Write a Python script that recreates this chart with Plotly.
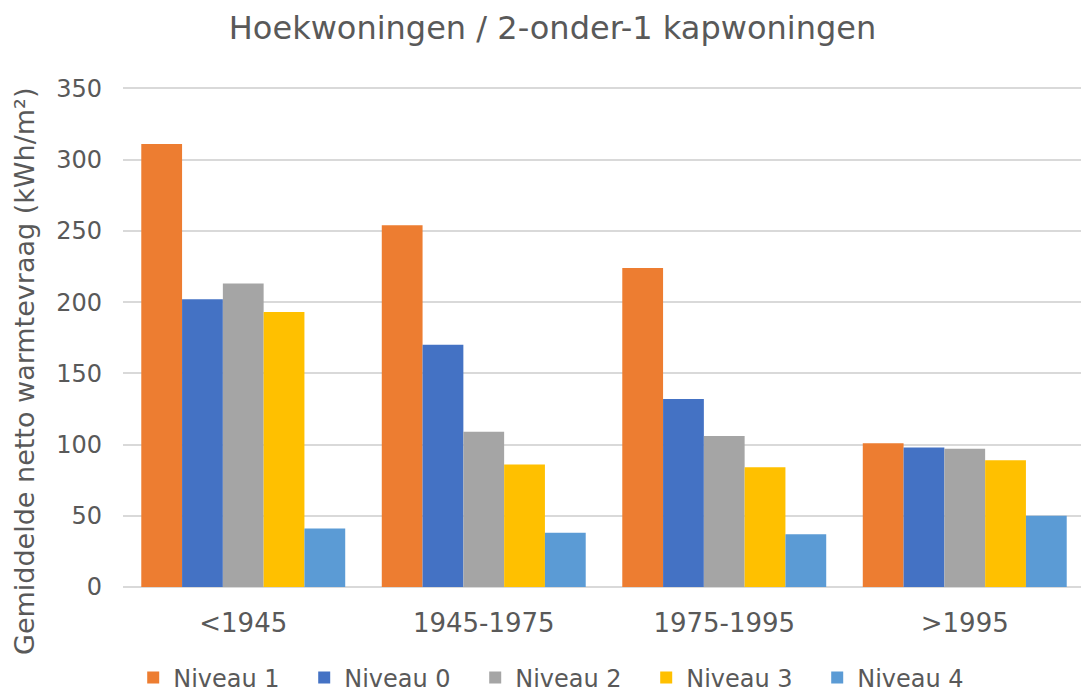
import plotly.graph_objects as go

perioden = ["<1945", "1945-1975", "1975-1995", ">1995"]

niveau_1 = [311, 254, 224, 101]
niveau_0 = [202, 170, 132, 98]
niveau_2 = [213, 109, 106, 97]
niveau_3 = [193, 86, 84, 89]
niveau_4 = [41, 38, 37, 50]

series = [
    ("Niveau 1", niveau_1, "#ED7D31"),
    ("Niveau 0", niveau_0, "#4472C4"),
    ("Niveau 2", niveau_2, "#A5A5A5"),
    ("Niveau 3", niveau_3, "#FFC000"),
    ("Niveau 4", niveau_4, "#5B9BD5"),
]

fig = go.Figure()
for naam, waarden, kleur in series:
    fig.add_trace(go.Bar(name=naam, x=perioden, y=waarden, marker=dict(color=kleur, line=dict(width=0))))

font = "DejaVu Sans, Verdana, sans-serif"
fig.update_layout(
    width=1089, height=695,
    barmode="group", bargap=0.152, bargroupgap=0,
    paper_bgcolor="white", plot_bgcolor="white",
    margin=dict(l=115, r=12, t=79, b=116, autoexpand=False),
    font=dict(family=font, color="#595959", size=24),
    title=dict(text="Hoekwoningen / 2-onder-1 kapwoningen", x=0.5, xanchor="center",
               y=0.971, yanchor="middle", font=dict(size=32, color="#595959")),
    xaxis=dict(showgrid=False, showline=False, ticks="", tickfont=dict(size=26),
               ticklabelstandoff=18),
    yaxis=dict(range=[0, 351], tickvals=[0, 50, 100, 150, 200, 250, 300, 350],
               showgrid=True, gridcolor="#D9D9D9", gridwidth=2,
               zeroline=True, zerolinecolor="#D9D9D9", zerolinewidth=2, ticks="",
               tickfont=dict(size=24), ticklabelstandoff=20),
    legend=dict(orientation="h", x=0.455, xanchor="center", yref="container", y=0.036,
                yanchor="middle", font=dict(size=24), traceorder="normal",
                entrywidth=126, itemwidth=30),
)

fig.add_annotation(text="Gemiddelde netto warmtevraag (kWh/m²)", textangle=-90,
                   xref="paper", yref="paper", x=-0.1029, y=0.43,
                   xanchor="center", yanchor="middle", showarrow=False,
                   font=dict(size=27, color="#595959"))

fig.write_html("out.html")
